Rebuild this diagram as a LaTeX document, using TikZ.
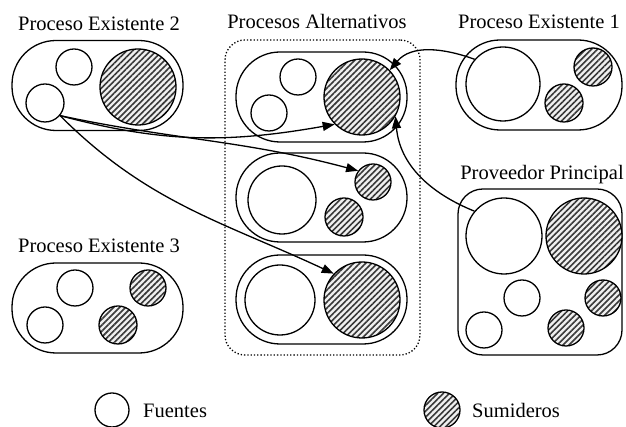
\documentclass[tikz,border=0pt]{standalone}
\usepackage{fontspec}
\setmainfont{Liberation Serif}
\usetikzlibrary{arrows.meta,patterns.meta}
\tikzset{
  fuente/.style={circle, draw, line width=1.3pt, fill=white, inner sep=0pt, minimum size=#1},
  sumidero/.style={circle, draw, line width=1.3pt, inner sep=0pt, minimum size=#1,
    preaction={fill=gray!12},
    pattern={Lines[angle=45,distance=4.2pt,line width=1.6pt]}, pattern color=gray!45!black},
  proceso/.style={draw, line width=1.3pt, rounded corners=44pt, minimum width=171pt, minimum height=90pt},
  titulo/.style={anchor=base, inner sep=0pt, font=\fontsize{20.5}{24}\selectfont},
  flecha/.style={-{Triangle[length=12pt,width=9pt]}, line width=1.3pt}
}
\begin{document}
\begin{tikzpicture}[x=1pt,y=1pt]
        \useasboundingbox (0,0) rectangle (626,427);
        % titulos
        \node [titulo] (t2) at (99,396) {Proceso Existente 2};
        \node [titulo] (ta) at (317,398) {Procesos Alternativos};
        \node [titulo] (t1) at (539,398) {Proceso Existente 1};
        \node [titulo] (tp) at (542,247) {Proveedor Principal};
        \node [titulo] (t3) at (99,174) {Proceso Existente 3};
        % procesos
        \node [proceso] (pe2) at (97.5,341.5) {};
        \node [proceso] (pe3) at (97.5,119) {};
        \node [proceso, minimum width=166pt] (pe1) at (539,342) {};
        \node [draw, line width=1.3pt, rounded corners=25pt, minimum width=164pt, minimum height=166pt] (pp) at (540,155) {};
        \node [draw, dotted, line width=1.3pt, rounded corners=20pt, minimum width=195pt, minimum height=315pt] (alt) at (322.5,229.5) {};
        \node [proceso] (a1) at (321.5,330) {};
        \node [proceso, minimum height=89pt] (a2) at (321.5,229.5) {};
        \node [proceso, minimum height=89pt] (a3) at (321.5,127.5) {};
        % Proceso Existente 2
        \node [fuente=36pt] (pe2f1) at (74,360) {};
        \node [fuente=38pt] (pe2f2) at (45,324) {};
        \node [sumidero=76pt] (pe2s1) at (138,340) {};
        % Procesos Alternativos
        \node [fuente=36pt] (a1f1) at (298,350) {};
        \node [fuente=36pt] (a1f2) at (269,314) {};
        \node [sumidero=76pt] (a1s1) at (362,330) {};
        \node [fuente=68pt] (a2f1) at (282,227) {};
        \node [sumidero=36pt] (a2s1) at (373,245) {};
        \node [sumidero=38pt] (a2s2) at (344,210) {};
        \node [fuente=70pt] (a3f1) at (280,127) {};
        \node [sumidero=76pt] (a3s1) at (362,127) {};
        % Proceso Existente 1
        \node [fuente=74pt] (pe1f1) at (503,343) {};
        \node [sumidero=38pt] (pe1s1) at (593,360) {};
        \node [sumidero=38pt] (pe1s2) at (564,324) {};
        % Proveedor Principal
        \node [fuente=76pt] (ppf1) at (504,191) {};
        \node [sumidero=76pt] (pps1) at (584,191) {};
        \node [fuente=36pt] (ppf2) at (522,129) {};
        \node [sumidero=36pt] (pps2) at (603,129) {};
        \node [fuente=36pt] (ppf3) at (484,97) {};
        \node [sumidero=36pt] (pps3) at (566,99) {};
        % Proceso Existente 3
        \node [fuente=36pt] (pe3f1) at (75,139) {};
        \node [fuente=36pt] (pe3f2) at (45,102) {};
        \node [sumidero=36pt] (pe3s1) at (148,139) {};
        \node [sumidero=38pt] (pe3s2) at (118,102) {};
        % flechas
        \draw [flecha] (pe2f2.-40) to [out=-15, in=190] (a1s1.225);
        \draw [flecha] (pe2f2.-40) to [out=-12, in=165] (a2s1.143);
        \draw [flecha] (pe2f2.-40) to [out=-45, in=155] (a3s1.137);
        \draw [flecha] (pe1f1.139) to [out=160, in=50] (a1s1.44);
        \draw [flecha] (ppf1.140) to [out=158, in=-85] (a1s1.-30);
        % leyenda
        \node [fuente=34pt] (lf) at (112,17) {};
        \node [titulo, anchor=base west] (lft) at (143,9) {Fuentes};
        \node [sumidero=36pt] (ls) at (442,17) {};
        \node [titulo, anchor=base west] (lst) at (472,9) {Sumideros};
\end{tikzpicture}
\end{document}
